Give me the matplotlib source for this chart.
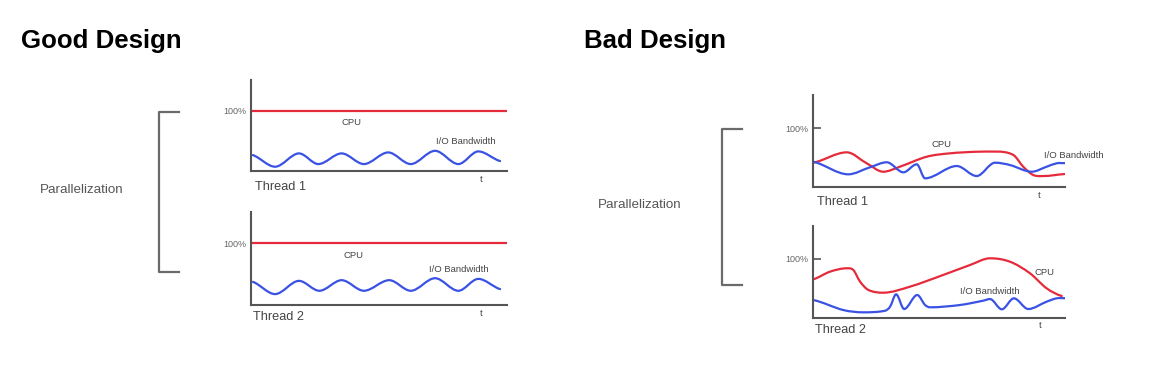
import matplotlib
matplotlib.use("Agg")
import matplotlib.pyplot as plt
from matplotlib.path import Path
from matplotlib.patches import PathPatch

plt.rcParams['font.family'] = ['Liberation Sans', 'DejaVu Sans']

# ---------------- data (time 0..100, utilisation in %) ----------------
panel_titles = ["Good Design", "Bad Design"]
thread_labels = ["Thread 1", "Thread 2"]
group_label = "Parallelization"
ref_tick = [100]
ref_tick_label = ["100%"]

# Good design: CPU flat at 100 %, I/O gentle wave
good_cpu_level = 100
good_io1_t = [0.7, 9.4, 18.75, 26.3, 35.4, 44.1, 53.6, 62.4, 71.9, 81.0, 88.8, 97.3]
good_io1_v = [26.4, 7.1, 29.2, 11.5, 29.2, 11.5, 30.8, 11.5, 33.5, 11.5, 32.5, 16.5]
good_io2_t = [0.7, 9.4, 18.75, 26.7, 35.4, 44.1, 54.0, 62.4, 71.9, 81.0, 88.8, 97.3]
good_io2_v = [37.6, 17.7, 39.2, 23.1, 40.3, 23.1, 40.3, 23.1, 43.5, 23.1, 42.4, 25.8]

# Bad design, thread 1
bad_cpu1_t = [0, 13.3, 21.2, 27.8, 34.4, 45.1, 54.3, 64.9, 72.9, 79.5, 83.4, 87.4, 91.4, 100]
bad_cpu1_v = [41.2, 58.8, 40.2, 25.9, 34.4, 51.4, 57.1, 59.8, 60.0, 54.2, 34.4, 20.3, 18.6, 22.0]
bad_io1_t = [0, 13.9, 22.5, 29.2, 35.8, 41.1, 44.4, 57.0, 64.9, 72.2, 78.1, 86.8, 92.7, 96.7, 100]
bad_io1_v = [42.9, 21.5, 33.4, 41.9, 24.9, 38.5, 14.7, 35.6, 18.6, 41.2, 37.3, 25.9, 34.4, 40.2, 40.4]

# Bad design, thread 2
bad_cpu2_t = [0, 6.6, 13.3, 15.9, 18.6, 21.9, 27.8, 38.4, 51.6, 62.3, 70.2, 78.1, 86.1, 92.7, 98.7]
bad_cpu2_v = [65.0, 77.8, 83.6, 80.7, 60.9, 46.9, 42.3, 52.5, 72.3, 89.2, 100.5, 94.8, 75.1, 49.7, 36.7]
bad_io2_t = [0, 11.9, 19.9, 28.5, 30.5, 32.9, 36.1, 41.3, 44.4, 46.4, 58.3, 67.5, 70.2, 74.9, 79.7, 85.4, 92.7, 96.7, 100]
bad_io2_v = [29.9, 13.0, 9.1, 11.8, 18.6, 39.6, 14.7, 38.4, 21.5, 17.6, 21.5, 28.8, 31.6, 14.2, 32.8, 14.7, 27.1, 32.8, 33.0]

# ---------------- styling ----------------
RED = "#e52b3b"
BLUE = "#3a52e4"
AXC = "#555555"
W, H = 1160, 380

fig = plt.figure(figsize=(W / 100, H / 100), dpi=100)
ov = fig.add_axes([0, 0, 1, 1])
ov.set_xlim(0, W)
ov.set_ylim(H, 0)
ov.axis('off')


def smooth_path(xs, ys):
    n = len(xs)
    m = []
    for i in range(n):
        if i == 0:
            s = 0.6 * (ys[1] - ys[0]) / (xs[1] - xs[0])
        elif i == n - 1:
            s = 0.6 * (ys[-1] - ys[-2]) / (xs[-1] - xs[-2])
        else:
            d1 = ys[i] - ys[i - 1]
            d2 = ys[i + 1] - ys[i]
            s = 0 if d1 * d2 <= 0 else (ys[i + 1] - ys[i - 1]) / (xs[i + 1] - xs[i - 1])
        m.append(s)
    verts = [(xs[0], ys[0])]
    codes = [Path.MOVETO]
    for i in range(n - 1):
        h = xs[i + 1] - xs[i]
        verts += [(xs[i] + h / 3, ys[i] + m[i] * h / 3),
                  (xs[i + 1] - h / 3, ys[i + 1] - m[i + 1] * h / 3),
                  (xs[i + 1], ys[i + 1])]
        codes += [Path.CURVE4] * 3
    return Path(verts, codes)


def make_axes(l, r, t, b, ymax, tick_len, tick_pad):
    ax = fig.add_axes([l / W, 1 - b / H, (r - l) / W, (b - t) / H])
    ax.set_xlim(0, 100)
    ax.set_ylim(0, ymax)
    for s in ['top', 'right']:
        ax.spines[s].set_visible(False)
    for s in ['left', 'bottom']:
        ax.spines[s].set_color(AXC)
        ax.spines[s].set_linewidth(1.5)
    ax.set_xticks([])
    ax.set_yticks(ref_tick)
    ax.set_yticklabels(ref_tick_label, fontsize=6.5, color="#666666")
    ax.tick_params(axis='y', direction='in', length=tick_len, width=1.2,
                   color=AXC, pad=tick_pad)
    ax.patch.set_alpha(0)
    return ax


def curve(ax, xs, ys, color):
    ax.add_patch(PathPatch(smooth_path(xs, ys), fill=False, edgecolor=color,
                           lw=1.6, capstyle='round', joinstyle='round'))


# Good design axes
g1 = make_axes(251, 507, 80, 171, 151, 0, 3.0)
g1.axhline(good_cpu_level, color=RED, lw=1.6)
curve(g1, good_io1_t, good_io1_v, BLUE)

g2 = make_axes(251, 507, 212, 305, 151, 0, 3.0)
g2.axhline(good_cpu_level, color=RED, lw=1.6)
curve(g2, good_io2_t, good_io2_v, BLUE)

# Bad design axes
b1 = make_axes(813.3, 1065, 95, 187, 156, 5.5, 3.8)
curve(b1, bad_cpu1_t, bad_cpu1_v, RED)
curve(b1, bad_io1_t, bad_io1_v, BLUE)

b2 = make_axes(813.3, 1065, 225.5, 317.7, 156, 5.5, 3.8)
curve(b2, bad_cpu2_t, bad_cpu2_v, RED)
curve(b2, bad_io2_t, bad_io2_v, BLUE)

# ---------------- overlay texts & brackets ----------------
ov.text(21, 48, panel_titles[0], fontsize=18.6, fontweight='bold', color='black', va='baseline')
ov.text(584, 48, panel_titles[1], fontsize=18.6, fontweight='bold', color='black', va='baseline')

ov.text(40, 190, group_label, fontsize=9.6, color="#555555", va='center')
ov.text(598, 205, group_label, fontsize=9.6, color="#555555", va='center')

ov.plot([179, 159.3, 159.3, 179], [112.3, 112.3, 271.7, 271.7], color="#6a6a6a", lw=1.6)
ov.plot([742, 722.3, 722.3, 742], [129, 129, 285, 285], color="#6a6a6a", lw=1.6)

lab = dict(fontsize=6.8, color="#444444")
# good 1
ov.text(352, 122.5, "CPU", ha='center', va='center', **lab)
ov.text(466, 141.7, "I/O Bandwidth", ha='center', va='center', **lab)
ov.text(255, 187, thread_labels[0], fontsize=9.2, color="#444444", va='center')
ov.text(481, 179, "t", ha='center', va='center', **lab)
# good 2
ov.text(353, 255, "CPU", ha='center', va='center', **lab)
ov.text(459, 270, "I/O Bandwidth", ha='center', va='center', **lab)
ov.text(253, 317.5, thread_labels[1], fontsize=9.2, color="#444444", va='center')
ov.text(481, 313, "t", ha='center', va='center', **lab)
# bad 1
ov.text(942, 144.3, "CPU", ha='center', va='center', **lab)
ov.text(1044, 156, "I/O Bandwidth", ha='left', va='center', **lab)
ov.text(817, 201.7, thread_labels[0], fontsize=9.2, color="#444444", va='center')
ov.text(1039, 195, "t", ha='center', va='center', **lab)
# bad 2
ov.text(1044.5, 272.3, "CPU", ha='center', va='center', **lab)
ov.text(990, 291.7, "I/O Bandwidth", ha='center', va='center', **lab)
ov.text(815, 330, thread_labels[1], fontsize=9.2, color="#444444", va='center')
ov.text(1040, 325, "t", ha='center', va='center', **lab)

fig.savefig("out.png", dpi=100)
